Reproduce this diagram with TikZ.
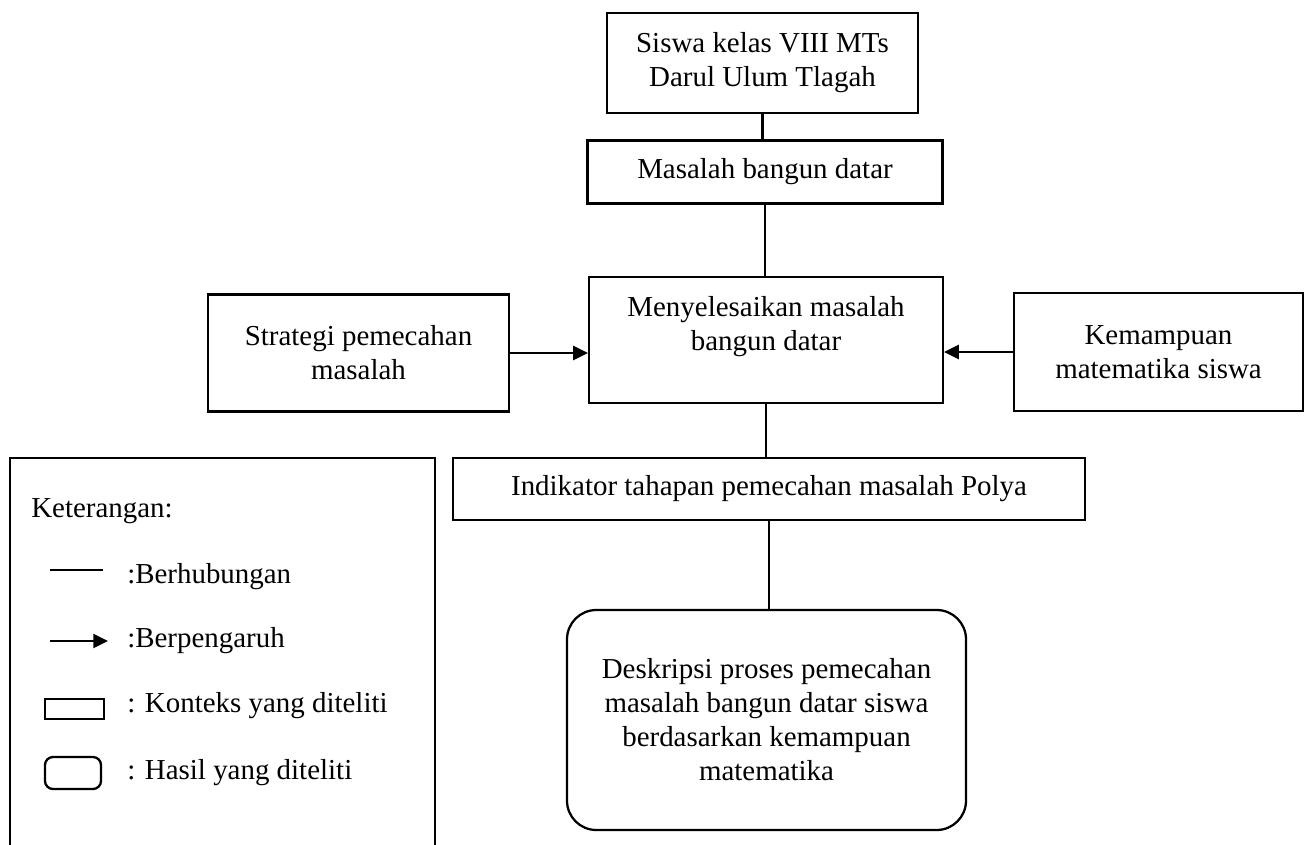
\documentclass[tikz,border=0pt]{standalone}
\usepackage{fontspec}
\setmainfont{Liberation Serif}
\usetikzlibrary{arrows.meta}
\begin{document}
\begin{tikzpicture}[x=0.75pt,y=-0.75pt,
  every node/.style={font=\fontsize{21.7}{25.5}\selectfont},
  box/.style 2 args={draw,line width=1.7pt,rectangle,minimum width={#1*0.75pt},minimum height={#2*0.75pt},inner sep=0pt,align=center},
  rbox/.style 2 args={box={#1}{#2},rounded corners=22pt},
  conn/.style={line width=1.7pt},
  arr/.style={line width=1.7pt,-{Triangle[length=11pt,width=10.5pt]}},
  txt/.style={anchor=west,inner sep=0pt}
]
\useasboundingbox (0,0) rectangle (1304,845);
\clip (0,0) rectangle (1304,845);

\node[box={311}{100}] (siswa) at (762.5,63) {Siswa kelas VIII MTs\\Darul Ulum Tlagah};
\node[box={355}{63}] (masalah) at (765,172) {Masalah bangun datar};
\node[box={354}{126}] (menye) at (766,340) {Menyelesaikan masalah\\bangun datar\\~};
\node[box={301}{117}] (strat) at (358.5,353) {Strategi pemecahan\\masalah};
\node[box={289}{118}] (kemam) at (1158.5,352) {Kemampuan\\matematika siswa};
\node[box={632}{62}] (indik) at (769,489) {Indikator tahapan pemecahan masalah Polya};
\node[rbox={399}{220}] (desk) at (766.5,720) {Deskripsi proses pemecahan\\masalah bangun datar siswa\\berdasarkan kemampuan\\matematika};

\draw[conn] (siswa.south) -- (siswa.south |- masalah.north);
\draw[conn] (masalah.south) -- (masalah.south |- menye.north);
\draw[arr] (strat.east) -- (strat.east -| menye.west);
\draw[arr] (kemam.west) -- (kemam.west -| menye.east);
\draw[conn] (menye.south) -- (menye.south |- indik.north);
\draw[conn] (indik.south) -- (indik.south |- desk.north);

% legend
\node[box={425}{430},anchor=north west] (legend) at (9,457) {};
\node[txt] (ket) at (31,511) {Keterangan:};
\coordinate (l1a) at (50,570);
\coordinate (l1b) at (103,570);
\draw[line width=0.8pt] (l1a) -- (l1b);
\node[txt] (t1) at (127,577) {:Berhubungan};
\coordinate (l2a) at (50,641);
\coordinate (l2b) at (108,641);
\draw[arr] (l2a) -- (l2b);
\node[txt] (t2) at (127,641) {:Berpengaruh};
\node[box={59}{20}] (lr) at (74.5,709) {};
\node[txt] (t3) at (127,706) {: Konteks yang diteliti};
\node[box={56}{32},rounded corners=6pt] (lrr) at (73,773) {};
\node[txt] (t4) at (127,773) {: Hasil yang diteliti};
\end{tikzpicture}
\end{document}
